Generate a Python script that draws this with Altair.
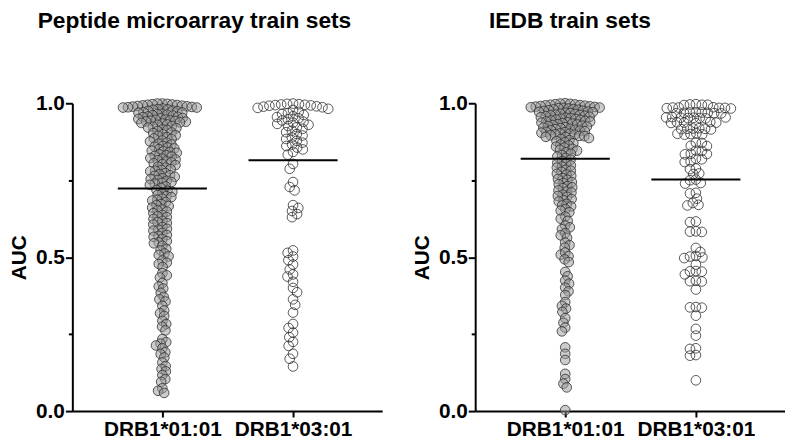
import math
import altair as alt
import pandas as pd

PANELS = ["Peptide microarray train sets", "IEDB train sets"]
CATS = ["DRB1*01:01", "DRB1*03:01"]

ma_0101 = [
    0.999, 0.999, 0.998, 0.997, 0.996, 0.995, 0.994, 0.993, 0.992, 0.991, 0.990, 0.989, 0.988, 0.987, 0.986, 0.986,
    0.983, 0.981, 0.980, 0.979, 0.976, 0.975, 0.974, 0.971, 0.970, 0.969, 0.966, 0.965, 0.963, 0.961, 0.960, 0.957, 0.956, 0.955,
    0.952, 0.951, 0.949, 0.947, 0.946, 0.944, 0.943, 0.942, 0.941, 0.940, 0.938, 0.936,
    0.934, 0.931, 0.930, 0.926, 0.924, 0.921, 0.919, 0.915, 0.913, 0.910, 0.905, 0.903, 0.899, 0.896, 0.894, 0.890, 0.886, 0.884,
    0.879, 0.876, 0.872, 0.869, 0.866, 0.861, 0.859, 0.856, 0.853, 0.851,
    0.846, 0.844, 0.842, 0.839, 0.834, 0.831, 0.829, 0.827, 0.822, 0.820, 0.817, 0.815, 0.811, 0.808, 0.805, 0.802, 0.799, 0.794,
    0.791, 0.786, 0.783, 0.781, 0.779, 0.773, 0.769, 0.766, 0.764, 0.761, 0.757, 0.754, 0.751, 0.748, 0.744, 0.741, 0.739, 0.735,
    0.730, 0.725,
    0.718, 0.715, 0.712, 0.707, 0.702, 0.698, 0.695, 0.690, 0.686, 0.684, 0.679, 0.672, 0.669, 0.666, 0.661, 0.655, 0.652, 0.648,
    0.643, 0.637, 0.633, 0.630, 0.624, 0.618, 0.614, 0.611, 0.606, 0.598, 0.592, 0.589, 0.586, 0.579, 0.572, 0.569, 0.566, 0.559,
    0.552, 0.548, 0.545, 0.537,
    0.527, 0.522, 0.512, 0.507, 0.503, 0.489, 0.482, 0.478, 0.468, 0.448, 0.441, 0.434, 0.416, 0.405, 0.398, 0.384, 0.371, 0.363,
    0.356, 0.342, 0.327, 0.318, 0.309, 0.293, 0.283, 0.274, 0.262, 0.234, 0.224, 0.219, 0.213, 0.204, 0.191, 0.185, 0.174, 0.158,
    0.146, 0.137, 0.129, 0.117, 0.104, 0.095, 0.074, 0.066, 0.059,
]

ma_0301 = [
    0.999, 0.998, 0.997, 0.996, 0.995, 0.994, 0.993, 0.992, 0.990, 0.989, 0.987, 0.985, 0.982, 0.978,
    0.972, 0.968, 0.965, 0.962, 0.958, 0.955, 0.951, 0.948, 0.944, 0.940, 0.937, 0.933, 0.930, 0.926, 0.922,
    0.917, 0.911, 0.906, 0.900, 0.895, 0.889, 0.884, 0.878, 0.872, 0.866, 0.861, 0.856,
    0.850, 0.842, 0.833,
    0.803, 0.787, 0.744, 0.728, 0.717, 0.669, 0.660, 0.650, 0.640, 0.630,
    0.522, 0.514, 0.502, 0.490, 0.476, 0.460, 0.444, 0.437, 0.420, 0.400, 0.386, 0.363, 0.345, 0.320,
    0.283, 0.270, 0.255, 0.240, 0.225, 0.212, 0.186, 0.170, 0.145,
]

iedb_0101 = [
    1.000, 0.999, 0.998, 0.997, 0.996, 0.995, 0.994, 0.993, 0.992, 0.991, 0.990, 0.989, 0.988, 0.987, 0.986, 0.985,
    0.984, 0.983, 0.981, 0.980, 0.979, 0.977, 0.976, 0.975, 0.973, 0.972, 0.971, 0.969, 0.968, 0.966, 0.965, 0.963, 0.962, 0.961,
    0.959, 0.958, 0.956, 0.955, 0.953, 0.952, 0.950, 0.949, 0.947, 0.946, 0.944, 0.943, 0.941, 0.940, 0.938, 0.937, 0.935, 0.934,
    0.932, 0.931,
    0.929, 0.927, 0.926, 0.924, 0.922, 0.921, 0.919, 0.917, 0.916, 0.914, 0.912, 0.911, 0.909, 0.907, 0.906, 0.904, 0.902, 0.901,
    0.899, 0.898, 0.896, 0.894, 0.893, 0.891, 0.890,
    0.887, 0.884, 0.880, 0.877, 0.873, 0.870, 0.866, 0.863, 0.859, 0.856, 0.852, 0.849, 0.846,
    0.841, 0.836, 0.832, 0.827, 0.822, 0.817, 0.812, 0.807, 0.803, 0.798, 0.794, 0.791,
    0.784, 0.781, 0.777, 0.771, 0.768, 0.764, 0.757, 0.754, 0.751, 0.744, 0.741, 0.737, 0.731, 0.727, 0.724, 0.717, 0.713, 0.710,
    0.703, 0.699, 0.696, 0.689, 0.685, 0.681, 0.673, 0.668, 0.665, 0.656, 0.651, 0.646,
    0.632, 0.625, 0.618, 0.603, 0.597, 0.591, 0.578, 0.571, 0.563, 0.547, 0.539, 0.531, 0.508,
    0.515, 0.503, 0.493, 0.484, 0.452, 0.438, 0.424, 0.414, 0.401, 0.389, 0.377, 0.354, 0.342, 0.333, 0.322,
    0.302, 0.287, 0.271, 0.259, 0.207, 0.186, 0.166, 0.121, 0.104, 0.089, 0.077, 0.003,
]

iedb_0301 = [
    0.997, 0.995, 0.996, 0.994, 0.995,
    0.987, 0.985, 0.986, 0.984, 0.985, 0.983, 0.986,
    0.970, 0.968, 0.969, 0.971, 0.967, 0.969, 0.970, 0.968,
    0.954, 0.952, 0.953, 0.955, 0.951, 0.953, 0.954, 0.952,
    0.938, 0.936, 0.937, 0.939, 0.935, 0.937,
    0.918, 0.916, 0.917, 0.919, 0.915, 0.917,
    0.901, 0.899, 0.900, 0.902, 0.898,
    0.872, 0.871, 0.862, 0.861, 0.846, 0.845, 0.836, 0.835, 0.834,
    0.820, 0.818, 0.811, 0.809, 0.788, 0.786, 0.772, 0.770, 0.752, 0.750, 0.741, 0.739,
    0.709, 0.707, 0.690, 0.676, 0.670, 0.668, 0.616, 0.614, 0.584, 0.583, 0.582,
    0.530, 0.517, 0.504, 0.502, 0.499, 0.497, 0.476, 0.455, 0.454, 0.453, 0.444,
    0.423, 0.422, 0.421, 0.395, 0.338, 0.337, 0.336, 0.310, 0.267, 0.245,
    0.204, 0.202, 0.182, 0.180, 0.100,
]

MEAN_LINES = [[0.723, 0.815], [0.820, 0.752]]
GROUPS = [[ma_0101, ma_0301], [iedb_0101, iedb_0301]]

W, H = 313, 311
X_DOMAIN = [-0.689, 1.682]
PX_X = W / (X_DOMAIN[1] - X_DOMAIN[0])
HALF_LINE = 45 / PX_X
DMIN = [5.0, 6.0]


def swarm(vals, dmin):
    pts = []
    xs = [0.0] * len(vals)
    order = sorted(range(len(vals)), key=lambda i: -vals[i])
    for k, i in enumerate(order):
        y = vals[i] * H
        near = [(px, py) for px, py in pts if abs(py - y) < dmin]
        cands = [0.0]
        for px, py in near:
            dx = math.sqrt(max(dmin * dmin - (py - y) ** 2, 0.0))
            cands += [px + dx, px - dx]
        sgn = 1 if k % 2 == 0 else -1
        cands.sort(key=lambda c: (round(abs(c), 6), -sgn * c))
        for c in cands:
            if all((c - px) ** 2 + (y - py) ** 2 >= dmin * dmin - 1e-6 for px, py in near):
                xs[i] = c
                break
        pts.append((xs[i], y))
    return xs


label_expr = f"datum.value < 0.5 ? '{CATS[0]}' : '{CATS[1]}'"
minor_test = "datum.value == 0.25 || datum.value == 0.75"


def panel(pi, title_dx):
    rows = []
    for gi, vals in enumerate(GROUPS[pi]):
        offs = swarm(vals, DMIN[gi])
        for v, o in zip(vals, offs):
            rows.append({"grp": CATS[gi], "auc": v, "xpos": gi + o / PX_X})
    df = pd.DataFrame(rows)
    mdf = pd.DataFrame({
        "grp": CATS,
        "mean": MEAN_LINES[pi],
        "x1": [gi - HALF_LINE for gi in range(2)],
        "x2": [gi + HALF_LINE for gi in range(2)],
    })
    xscale = alt.Scale(domain=X_DOMAIN, nice=False, zero=False)
    yscale = alt.Scale(domain=[0, 1], nice=False)
    pts = alt.Chart(df).mark_circle(size=95, stroke="#2e2e2e", strokeWidth=0.8, opacity=1).encode(
        x=alt.X("xpos:Q", scale=xscale, axis=alt.Axis(values=[0, 1], labelExpr=label_expr, title=None,
                                                      tickSize=6, labelPadding=2, labelFlush=False)),
        y=alt.Y("auc:Q", scale=yscale, axis=alt.Axis(
            values=[0, 0.25, 0.5, 0.75, 1.0],
            labelExpr=f"{minor_test} ? '' : format(datum.value, '.1f')",
            tickSize={"condition": {"test": minor_test, "value": 4}, "value": 7},
            labelPadding=1, title="AUC", titlePadding=6)),
        fill=alt.Fill("grp:N", scale=alt.Scale(domain=CATS, range=["#999999", "#ffffff"]), legend=None),
        fillOpacity=alt.FillOpacity("grp:N", scale=alt.Scale(domain=CATS, range=[0.5, 0.0]), legend=None),
    )
    rules = alt.Chart(mdf).mark_rule(color="black", strokeWidth=2).encode(
        x=alt.X("x1:Q", scale=xscale), x2="x2:Q", y=alt.Y("mean:Q", scale=yscale))
    return alt.layer(pts, rules).properties(
        width=W, height=H,
        title=alt.TitleParams(PANELS[pi], anchor="start", frame="group", dx=title_dx, offset=60),
    )


chart = alt.hconcat(panel(0, -35), panel(1, 14), spacing=29).properties(
    padding={"left": 0, "top": 0, "right": 0, "bottom": 0}
).configure_view(stroke=None).configure_axis(
    domainColor="black", domainWidth=2, tickColor="black", tickWidth=2, grid=False,
    labelFont="Liberation Sans", labelFontWeight="bold", labelFontSize=21, labelColor="black",
    titleFont="Liberation Sans", titleFontWeight="bold", titleFontSize=21, titleColor="black",
).configure_title(font="Liberation Sans", fontSize=23, fontWeight="bold", color="black")

chart.save("out.html", embed_options={"renderer": "svg", "actions": False})
